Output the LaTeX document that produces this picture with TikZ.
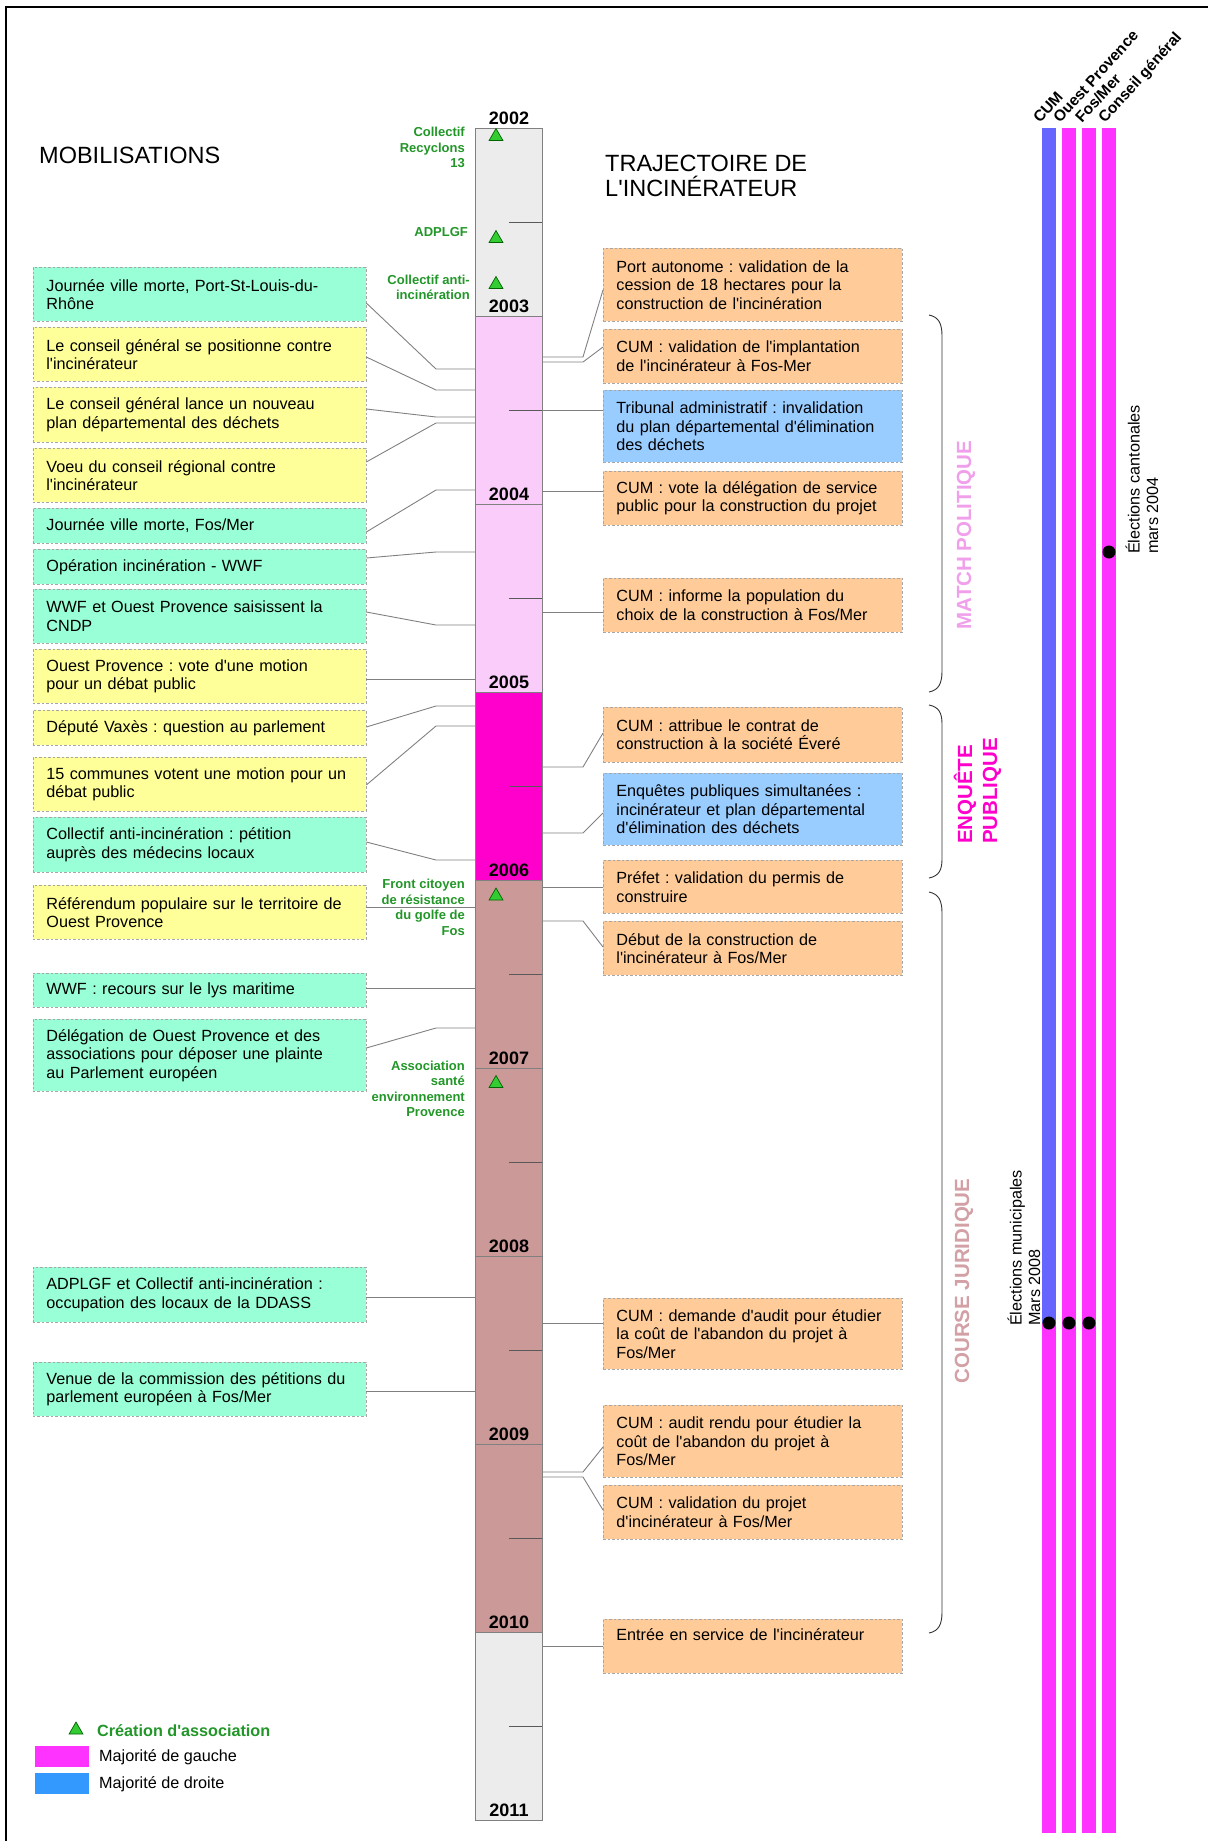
\documentclass[tikz,border=0pt]{standalone}
\usepackage{fontspec}
\setmainfont{Liberation Sans}[Ligatures=TeXOff]
\usetikzlibrary{shapes.geometric}
\frenchspacing

\definecolor{vertasso}{RGB}{34,150,40}
\definecolor{vertvif}{RGB}{51,204,51}
\definecolor{vertfonce}{RGB}{0,100,0}
\definecolor{gristemps}{RGB}{236,236,236}
\definecolor{rosepale}{RGB}{250,204,250}
\definecolor{rosevif}{RGB}{255,0,204}
\definecolor{vieuxrose}{RGB}{204,153,153}
\definecolor{fondvert}{RGB}{153,255,214}
\definecolor{fondjaune}{RGB}{255,255,153}
\definecolor{fondorange}{RGB}{255,204,153}
\definecolor{fondbleu}{RGB}{153,204,255}
\definecolor{gauche}{RGB}{255,51,255}
\definecolor{droite}{RGB}{102,102,255}
\definecolor{legdroite}{RGB}{51,153,255}
\definecolor{titrematch}{RGB}{240,160,235}
\definecolor{titrecourse}{RGB}{210,160,165}
\definecolor{trait}{RGB}{128,128,128}

\newcommand{\ftboite}{\fontsize{16.2}{18.5}\selectfont}
\newcommand{\ftasso}{\fontsize{13}{15.6}\selectfont\bfseries}
\newcommand{\ftannee}{\fontsize{18}{20}\selectfont\bfseries}
\newcommand{\ftphase}{\fontsize{20.5}{25}\selectfont\bfseries}
\newcommand{\fttitre}{\fontsize{23.5}{25}\selectfont}
\newcommand{\ftparti}{\fontsize{15.5}{18}\selectfont\bfseries}
\newcommand{\ftleg}{\fontsize{16.2}{18.5}\selectfont\bfseries}

\tikzset{
  evt/.style={draw=trait!70, dash pattern=on 2.5pt off 2pt, line width=0.8pt, anchor=north west, align=left, inner ysep=4pt, font=\ftboite},
  mobil/.style={evt, text width=306pt, inner xsep=13.5pt},
  traj/.style={evt, text width=273pt, inner xsep=13pt},
  lien/.style={draw=trait, line width=0.9pt},
  asso/.style={font=\ftasso, text=vertasso, align=right, anchor=north east, inner sep=0pt},
  creation/.style={regular polygon, regular polygon sides=3, minimum size=16pt, inner sep=0pt, fill=vertvif, draw=vertfonce, line width=0.7pt},
  annee/.style={font=\ftannee, anchor=base, inner sep=0pt},
  phase/.style={font=\ftphase, rotate=90, align=left, inner sep=0pt},
  parti/.style={font=\ftparti, rotate=48, anchor=base west, inner sep=0pt},
  scrutin/.style={font=\ftboite, rotate=90, align=left, anchor=west, inner sep=0pt},
  accolade/.style={draw=black!80, line width=0.9pt},
}

\begin{document}
\begin{tikzpicture}[x=1pt,y=-1pt]
\useasboundingbox (0,0) rectangle (1208,1841);
%cadre
\draw[line width=1.3pt] (6,1841) -- (6,7) -- (1208,7);

%titres
\node[font=\fttitre, anchor=base west, inner sep=0pt] (titremob) at (39,163) {MOBILISATIONS};
\node[font=\fttitre, anchor=north west, align=left, inner sep=0pt] (titretraj) at (605,155) {TRAJECTOIRE DE\\L'INCINÉRATEUR};

%frise
\fill[gristemps] (475,128) rectangle (542,316);
\fill[rosepale] (475,316) rectangle (542,692);
\fill[rosevif] (475,692) rectangle (542,880);
\fill[vieuxrose] (475,880) rectangle (542,1632);
\fill[gristemps] (475,1632) rectangle (542,1820);
\node[draw=trait, line width=0.9pt, minimum width=67pt, minimum height=1692pt, anchor=north west, inner sep=0pt] (axe) at (475,128) {};
\foreach \an in {2002,...,2011}{
  \pgfmathsetmacro{\ya}{128+188*(\an-2002)}
  \draw[trait, line width=0.9pt] (475,\ya) -- (542,\ya);
  \node[annee] at (509,\ya-3.5) {\an};
}
\foreach \k in {0,...,8}
  \draw[black!65, line width=0.9pt] (509,128+188*\k+94) -- (542,128+188*\k+94);

%associations
\node[asso] (recyclons) at (465,127) {Collectif\\Recyclons\\13};
\node[creation] (trirecyclons) at (496,136.5) {};
\node[asso] (adplgf) at (468,227.5) {ADPLGF};
\node[creation] (triadplgf) at (496,238.5) {};
\node[asso] (antiinc) at (470,274.5) {Collectif anti-\\incinération};
\node[creation] (triantiinc) at (496,284.5) {};
\node[asso] (front) at (465,879) {Front citoyen\\de résistance\\du golfe de\\Fos};
\node[creation] (trifront) at (496,896) {};
\node[asso] (asep) at (465,1060.5) {Association\\santé\\environnement\\Provence};
\node[creation] (triasep) at (496,1083.5) {};

%mobilisations
\node[mobil, fill=fondvert, minimum height=54pt] (m1) at (32.5,267) {Journée ville morte, Port-St-Louis-du-\\Rhône};
\node[mobil, fill=fondjaune, minimum height=54pt] (m2) at (32.5,327) {Le conseil général se positionne contre\\l'incinérateur};
\node[mobil, fill=fondjaune, minimum height=55pt] (m3) at (32.5,387) {Le conseil général lance un nouveau\\plan départemental des déchets};
\node[mobil, fill=fondjaune, minimum height=54pt] (m4) at (32.5,448) {Voeu du conseil régional contre\\l'incinérateur};
\node[mobil, fill=fondvert, minimum height=35pt] (m5) at (32.5,508) {Journée ville morte, Fos/Mer};
\node[mobil, fill=fondvert, minimum height=35pt] (m6) at (32.5,549) {Opération incinération - WWF};
\node[mobil, fill=fondvert, minimum height=54pt] (m7) at (32.5,589) {WWF et Ouest Provence saisissent la\\CNDP};
\node[mobil, fill=fondjaune, minimum height=54pt] (m8) at (32.5,649) {Ouest Provence : vote d'une motion\\pour un débat public};
\node[mobil, fill=fondjaune, minimum height=35pt] (m9) at (32.5,710) {Député Vaxès : question au parlement};
\node[mobil, fill=fondjaune, minimum height=54pt] (m10) at (32.5,757) {15 communes votent une motion pour un\\débat public};
\node[mobil, fill=fondvert, minimum height=55pt] (m11) at (32.5,817) {Collectif anti-incinération : pétition\\auprès des médecins locaux};
\node[mobil, fill=fondjaune, minimum height=54pt] (m12) at (32.5,885) {Référendum populaire sur le territoire de\\Ouest Provence};
\node[mobil, fill=fondvert, minimum height=34pt] (m13) at (32.5,973) {WWF : recours sur le lys maritime};
\node[mobil, fill=fondvert, minimum height=72pt] (m14) at (32.5,1019) {Délégation de Ouest Provence et des\\associations pour déposer une plainte\\au Parlement européen};
\node[mobil, fill=fondvert, minimum height=55pt] (m15) at (32.5,1267) {ADPLGF et Collectif anti-incinération :\\occupation des locaux de la DDASS};
\node[mobil, fill=fondvert, minimum height=54pt] (m16) at (32.5,1362) {Venue de la commission des pétitions du\\parlement européen à Fos/Mer};

\draw[lien] (m1.east |- 0,303) -- (436,369) -- (axe.west |- 0,369);
\draw[lien] (m2.east |- 0,357) -- (436,390) -- (axe.west |- 0,390);
\draw[lien] (m3.east |- 0,409) -- (436,417) -- (axe.west |- 0,417);
\draw[lien] (m4.east |- 0,462) -- (436,423) -- (axe.west |- 0,423);
\draw[lien] (m5.east |- 0,532) -- (436,490) -- (axe.west |- 0,490);
\draw[lien] (m6.east |- 0,558) -- (436,552) -- (axe.west |- 0,552);
\draw[lien] (m7.east |- 0,612) -- (436,625) -- (axe.west |- 0,625);
\draw[lien] (m8.east |- 0,679) -- (axe.west |- 0,679);
\draw[lien] (m9.east |- 0,727) -- (436,706) -- (axe.west |- 0,706);
\draw[lien] (m10.east |- 0,785) -- (436,726) -- (axe.west |- 0,726);
\draw[lien] (m11.east |- 0,842) -- (436,860) -- (axe.west |- 0,860);
\draw[lien] (m12.east |- 0,907) -- (axe.west |- 0,907);
\draw[lien] (m13.east |- 0,988) -- (axe.west |- 0,988);
\draw[lien] (m14.east |- 0,1048) -- (436,1028) -- (axe.west |- 0,1028);
\draw[lien] (m15.east |- 0,1297) -- (axe.west |- 0,1297);
\draw[lien] (m16.east |- 0,1391) -- (axe.west |- 0,1391);

%trajectoire
\node[traj, fill=fondorange, minimum height=73pt] (r1) at (603,248) {Port autonome : validation de la\\cession de 18 hectares pour la\\construction de l'incinération};
\node[traj, fill=fondorange, minimum height=54pt] (r2) at (603,329) {CUM : validation de l'implantation\\de l'incinérateur à Fos-Mer};
\node[traj, fill=fondbleu, minimum height=72pt] (r3) at (603,390) {Tribunal administratif : invalidation\\du plan départemental d'élimination\\des déchets};
\node[traj, fill=fondorange, minimum height=54pt] (r4) at (603,471) {CUM : vote la délégation de service\\public pour la construction du projet};
\node[traj, fill=fondorange, minimum height=54pt] (r5) at (603,578) {CUM : informe la population du\\choix de la construction à Fos/Mer};
\node[traj, fill=fondorange, minimum height=55pt] (r6) at (603,707) {CUM : attribue le contrat de\\construction à la société Éveré};
\node[traj, fill=fondbleu, minimum height=72pt] (r7) at (603,773) {Enquêtes publiques simultanées :\\incinérateur et plan départemental\\d'élimination des déchets};
\node[traj, fill=fondorange, minimum height=53pt] (r8) at (603,860) {Préfet : validation du permis de\\construire};
\node[traj, fill=fondorange, minimum height=54pt] (r9) at (603,921) {Début de la construction de\\l'incinérateur à Fos/Mer};
\node[traj, fill=fondorange, minimum height=71pt] (r10) at (603,1298) {CUM : demande d'audit pour étudier\\la coût de l'abandon du projet à\\Fos/Mer};
\node[traj, fill=fondorange, minimum height=72pt] (r11) at (603,1405) {CUM : audit rendu pour étudier la\\coût de l'abandon du projet à\\Fos/Mer};
\node[traj, fill=fondorange, minimum height=54pt] (r12) at (603,1485) {CUM : validation du projet\\d'incinérateur à Fos/Mer};
\node[traj, fill=fondorange, minimum height=54pt] (r13) at (603,1619) {Entrée en service de l'incinérateur\\\strut};

\draw[lien] (axe.east |- 0,357) -- (583,357) -- (r1.west |- 0,290);
\draw[lien] (axe.east |- 0,362) -- (583,362) -- (r2.west |- 0,347);
\draw[lien] (axe.east |- 0,410) -- (r3.west |- 0,410);
\draw[lien] (axe.east |- 0,491) -- (r4.west |- 0,491);
\draw[lien] (axe.east |- 0,612) -- (r5.west |- 0,612);
\draw[lien] (axe.east |- 0,767) -- (583,767) -- (r6.west |- 0,733);
\draw[lien] (axe.east |- 0,833) -- (583,833) -- (r7.west |- 0,813);
\draw[lien] (axe.east |- 0,887) -- (r8.west |- 0,887);
\draw[lien] (axe.east |- 0,921) -- (583,921) -- (r9.west |- 0,947);
\draw[lien] (axe.east |- 0,1323) -- (r10.west |- 0,1323);
\draw[lien] (axe.east |- 0,1472) -- (583,1472) -- (r11.west |- 0,1447);
\draw[lien] (axe.east |- 0,1477) -- (583,1477) -- (r12.west |- 0,1510);
\draw[lien] (axe.east |- 0,1646) -- (r13.west |- 0,1646);

%phases
\draw[accolade] (929,315) .. controls (939,317) and (942,324) .. (942,336) -- (942,671) .. controls (942,683) and (939,690) .. (929,692);
\draw[accolade] (929,705) .. controls (939,707) and (942,713) .. (942,724) -- (942,859) .. controls (942,870) and (939,876) .. (929,878);
\draw[accolade] (929,892) .. controls (939,894) and (942,901) .. (942,913) -- (942,1612) .. controls (942,1624) and (939,1631) .. (929,1633);
\node[phase, text=titrematch] (match) at (966,535) {MATCH POLITIQUE};
\node[phase, text=rosevif] (enquete) at (977.5,791) {ENQUÊTE\\PUBLIQUE};
\node[phase, text=titrecourse] (course) at (964,1281) {COURSE JURIDIQUE};

%majorites
\fill[droite] (1042,128) rectangle (1056,1323);
\fill[gauche] (1042,1323) rectangle (1056,1833);
\fill[gauche] (1062,128) rectangle (1076,1833);
\fill[gauche] (1082,128) rectangle (1096,1833);
\fill[gauche] (1102,128) rectangle (1116,1833);
\node[parti] (cum) at (1040,124) {CUM};
\node[parti] (ouestprov) at (1060,124) {Ouest Provence};
\node[parti] (fosmer) at (1082,124) {Fos/Mer};
\node[parti] (cg) at (1105,124) {Conseil général};
\fill (1109,552) circle (6.5);
\node[scrutin] (cantonales) at (1142,554) {Élections cantonales\\mars 2004};
\fill (1049,1323) circle (6.5);
\fill (1069,1323) circle (6.5);
\fill (1089,1323) circle (6.5);
\node[scrutin] (municipales) at (1024,1326) {Élections municipales\\Mars 2008};

%legende
\node[creation] (legtri) at (76,1730) {};
\node[font=\ftleg, text=vertasso, anchor=west, inner sep=0pt] (legasso) at (97,1731) {Création d'association};
\node[fill=gauche, minimum width=54pt, minimum height=21pt, inner sep=0pt, anchor=north west] (leggauche) at (35,1746) {};
\node[font=\ftboite, anchor=west, inner sep=0pt] at (99,1757) {Majorité de gauche};
\node[fill=legdroite, minimum width=54pt, minimum height=21pt, inner sep=0pt, anchor=north west] (legdroite) at (35,1773) {};
\node[font=\ftboite, anchor=west, inner sep=0pt] at (99,1784) {Majorité de droite};
\end{tikzpicture}
\end{document}
